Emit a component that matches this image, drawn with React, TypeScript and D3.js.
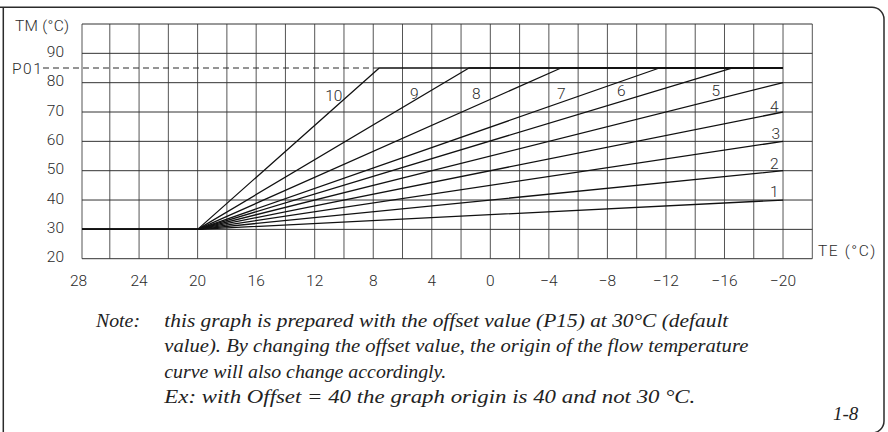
import { useRef, useEffect } from 'react';
import * as d3 from 'd3';

// outdoor temperature ticks (TE) and flow temperature ticks (TM)
const teTicks = [28, 24, 20, 16, 12, 8, 4, 0, -4, -8, -12, -16, -20];
const tmTicks = [20, 30, 40, 50, 60, 70, 80, 90];

// curves: each one is flat at the offset up to TE=20, then rises to its break point, then flat at P01
const curveIds = ['1', '2', '3', '4', '5', '6', '7', '8', '9', '10'];
const curveBreakTE = [-20, -20, -20, -20, -20, -16.5, -11.55, -4.83, 1.46, 7.59];
const curveBreakTM = [40, 50, 60, 70, 80, 85, 85, 85, 85, 85];
const labelTE = [-19.4, -19.4, -19.5, -19.4, -15.4, -8.95, -4.85, 0.96, 5.2, 10.7];
const labelTM = [42.8, 52.5, 62.8, 72, 77.3, 77.3, 76.4, 76.4, 76.4, 75.6];

const originTE = 20;
const offsetTM = 30;
const p01TM = 85;
const endTE = -20;

const noteLines = [
  'this graph is prepared with the offset value (P15) at 30°C (default',
  'value). By changing the offset value, the origin of the flow temperature',
  'curve will also change accordingly.',
  'Ex: with Offset = 40 the graph origin is 40 and not 30 °C.',
];
// measured widths of the note lines in the original
const noteWidths = [564, 584, 282, 531];

const W = 888;
const H = 432;
const INK = '#2b2b2b';
const SANS = 'Roboto, "DejaVu Sans", sans-serif';
const SERIF = '"Liberation Serif", "DejaVu Serif", serif';

export default function App() {
  const svgRef = useRef<SVGSVGElement>(null);

  useEffect(() => {
    if (!svgRef.current) return;
    const svg = d3.select(svgRef.current);
    svg.selectAll('*').remove();

    const x = d3.scaleLinear().domain([27.9, -22]).range([82, 812.3]);
    const y = d3.scaleLinear().domain([20, 100]).range([258.7, 24]);

    // outer frame (rounded on the right side)
    svg.append('path')
      .attr('d', `M0,7.3 H872 A12,12 0 0 1 884,19.3 V421 A12,12 0 0 1 872,433 M3.3,7.3 V432`)
      .attr('fill', 'none')
      .attr('stroke', INK)
      .attr('stroke-width', 1.5);

    const g = svg.append('g');

    // grid
    const vLines = [27.9, ...d3.range(26, -23, -2)];
    g.selectAll('.vgrid')
      .data(vLines)
      .join('line')
      .attr('x1', d => x(d)).attr('x2', d => x(d))
      .attr('y1', y(100)).attr('y2', y(20))
      .attr('stroke', '#555')
      .attr('stroke-width', 1);
    g.selectAll('.hgrid')
      .data(d3.range(20, 101, 10))
      .join('line')
      .attr('x1', x(27.9)).attr('x2', x(-22))
      .attr('y1', d => y(d)).attr('y2', d => y(d))
      .attr('stroke', '#333')
      .attr('stroke-width', 1);

    // P01 dashed limit up to where curve 10 reaches it
    g.append('line')
      .attr('x1', 43).attr('x2', x(curveBreakTE[9]))
      .attr('y1', y(p01TM)).attr('y2', y(p01TM))
      .attr('stroke', INK)
      .attr('stroke-width', 1)
      .attr('stroke-dasharray', '6,4');

    // curves
    const line = d3.line<[number, number]>().x(d => x(d[0])).y(d => y(d[1]));
    curveIds.forEach((id, i) => {
      const pts: [number, number][] = [
        [27.9, offsetTM],
        [originTE, offsetTM],
        [curveBreakTE[i], curveBreakTM[i]],
      ];
      if (curveBreakTE[i] > endTE) pts.push([endTE, curveBreakTM[i]]);
      g.append('path')
        .attr('d', line(pts))
        .attr('fill', 'none')
        .attr('stroke', '#111')
        .attr('stroke-width', 1.3)
        .attr('stroke-linejoin', 'round');
      g.append('text')
        .attr('x', x(labelTE[i]))
        .attr('y', y(labelTM[i]))
        .attr('dy', '0.36em')
        .attr('text-anchor', 'middle')
        .attr('font-family', SANS)
        .attr('font-weight', 300)
        .attr('font-size', 15.5)
        .attr('fill', INK)
        .text(id);
    });

    // TM axis labels
    g.selectAll('.ytick')
      .data(tmTicks)
      .join('text')
      .attr('x', 64)
      .attr('y', d => y(d) - 2)
      .attr('dy', '0.36em')
      .attr('text-anchor', 'end')
      .attr('font-family', SANS)
      .attr('font-weight', 300)
      .attr('font-size', 15.5)
      .attr('fill', INK)
      .text(d => String(d));

    // TE axis labels
    g.selectAll('.xtick')
      .data(teTicks)
      .join('text')
      .attr('x', d => x(d) - (d === 28 ? 2 : 0))
      .attr('y', 280.5)
      .attr('dy', '0.36em')
      .attr('text-anchor', 'middle')
      .attr('font-family', SANS)
      .attr('font-weight', 300)
      .attr('font-size', 15.5)
      .attr('fill', INK)
      .text(d => d < 0 ? `−${-d}` : String(d));

    const axisText = (tx: number, ty: number, s: string, anchor = 'start', spacing = 0) =>
      g.append('text')
        .attr('x', tx).attr('y', ty)
        .attr('dy', '0.36em')
        .attr('text-anchor', anchor)
        .attr('font-family', SANS)
        .attr('font-weight', 300)
        .attr('font-size', 15.5)
        .attr('letter-spacing', spacing)
        .attr('fill', INK)
        .text(s);

    axisText(15, 25, 'TM (°C)', 'start', 0.3);
    axisText(818, 250, 'TE (°C)', 'start', 1.6);
    axisText(12, 68.5, 'P01', 'start', 1.5);

    // note
    const note = svg.append('g')
      .attr('font-family', SERIF)
      .attr('font-style', 'italic')
      .attr('font-size', 19)
      .attr('fill', '#222');
    note.append('text')
      .attr('x', 96).attr('y', 326.7)
      .attr('textLength', 44)
      .attr('lengthAdjust', 'spacingAndGlyphs')
      .text('Note:');
    noteLines.forEach((s, i) => {
      note.append('text')
        .attr('x', 164.3)
        .attr('y', 326.7 + i * 25.5)
        .attr('textLength', noteWidths[i])
        .attr('lengthAdjust', 'spacingAndGlyphs')
        .text(s);
    });
    note.append('text')
      .attr('x', 858.3)
      .attr('y', 419.5)
      .attr('text-anchor', 'end')
      .text('1-8');
  }, []);

  return (
    <svg
      ref={svgRef}
      width={W}
      height={H}
      viewBox={`0 0 ${W} ${H}`}
      style={{ position: 'absolute', left: 0, top: 0, display: 'block', background: '#fff' }}
    />
  );
}
